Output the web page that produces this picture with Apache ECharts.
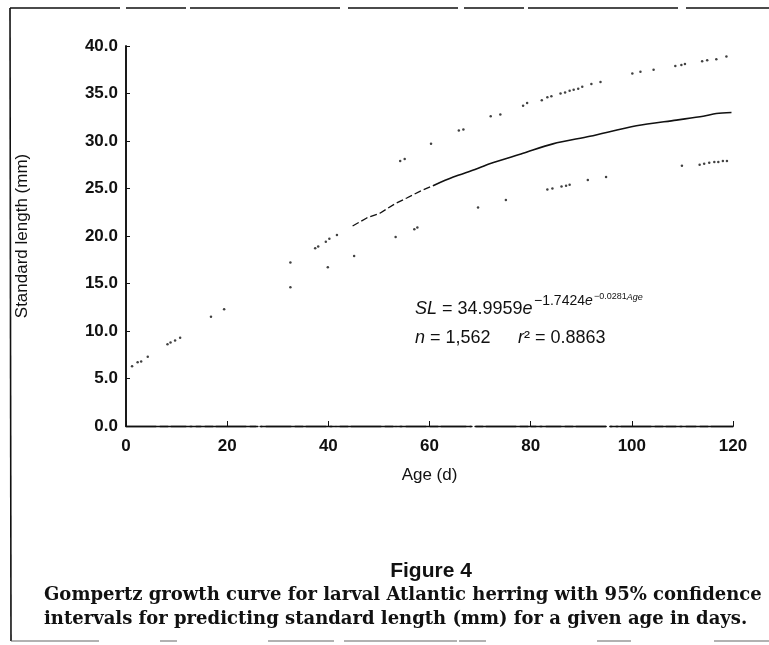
<!DOCTYPE html>
<html>
<head>
<meta charset="UTF-8">
<title>Figure 4 - Gompertz growth curve</title>
<script src="https://cdn.jsdelivr.net/npm/echarts@6/dist/echarts.min.js"></script>
<style>
	html, body { margin: 0; padding: 0; background: #fff; }
	#main { width: 769px; height: 645px; }
</style>
</head>
<body>
<div id="main"></div>
<script>
	// values
	var xTicks = [0, 20, 40, 60, 80, 100, 120];
	var yTicks = ['0.0', '5.0', '10.0', '15.0', '20.0', '25.0', '30.0', '35.0', '40.0'];

	// fitted curve, printed as loose dots at young ages
	var fitDotAge = [1.2, 2.3, 3.0, 4.3, 8.2, 8.8, 9.7, 10.7, 16.8, 19.4, 32.5, 37.4, 38.0, 39.5, 40.2, 41.7];
	var fitDotSL = [6.3, 6.7, 6.8, 7.3, 8.6, 8.8, 9.0, 9.3, 11.5, 12.3, 17.2, 18.7, 18.9, 19.4, 19.7, 20.1];

	// fitted curve, broken line part
	var fitDashAge = [44.8, 47.6, 50.2, 53.2, 55.5, 58.1, 60.7];
	var fitDashSL = [21.05, 21.9, 22.4, 23.4, 24.0, 24.7, 25.3];

	// fitted curve, solid part
	var fitLineAge = [60.7, 64.7, 69.0, 71.9, 78.5, 84.4, 91.7, 100.9, 108.8, 114.1, 116.7, 119.7];
	var fitLineSL = [25.3, 26.2, 27.0, 27.6, 28.7, 29.7, 30.5, 31.6, 32.2, 32.6, 32.9, 33.0];

	// upper 95% limit
	var upperAge = [54.2, 55.1, 60.3, 65.8, 66.7, 72.1, 74.0, 78.5, 79.3, 82.2, 83.3, 84.1, 85.9, 86.8, 87.7, 88.5, 89.4, 90.2, 92.0, 93.8, 100.1, 101.7, 104.3, 108.6, 109.8, 110.5, 113.9, 114.9, 116.7, 118.7];
	var upperSL = [27.9, 28.1, 29.7, 31.1, 31.2, 32.6, 32.8, 33.7, 34.0, 34.3, 34.6, 34.7, 35.0, 35.1, 35.3, 35.4, 35.5, 35.7, 36.0, 36.2, 37.1, 37.3, 37.5, 37.9, 38.0, 38.1, 38.4, 38.5, 38.6, 38.9];

	// lower 95% limit
	var lowerAge = [32.5, 39.9, 45.1, 53.3, 57.0, 57.6, 69.6, 75.1, 83.3, 84.3, 86.1, 87.0, 87.7, 91.3, 94.9, 109.9, 113.4, 114.3, 115.3, 116.3, 117.1, 118.0, 118.8];
	var lowerSL = [14.6, 16.7, 17.9, 19.9, 20.7, 20.9, 23.0, 23.8, 24.9, 25.0, 25.2, 25.3, 25.4, 25.9, 26.2, 27.4, 27.5, 27.6, 27.7, 27.8, 27.8, 27.9, 27.9];

	function pairs(xs, ys) {
		var out = [];
		for (var i = 0; i < xs.length; i++) {
			out.push([xs[i], ys[i]]);
		}
		return out;
	}

	var ink = '#111';
	var sans = '"Liberation Sans", Arial, sans-serif';
	var serif = '"DejaVu Serif", "Liberation Serif", serif';

	// text with italic pieces marked {i|...}
	function eqText(x, y, size, text) {
		return {
			type: 'text', x: x, y: y,
			style: {
				text: text, fill: ink, font: size + 'px ' + sans, verticalAlign: 'middle',
				rich: {i: {fontStyle: 'italic', fontSize: size, fontFamily: sans, fill: ink}}
			}
		};
	}

	var myChart = echarts.init(document.getElementById('main'), null, {renderer: 'canvas'});

	var option = {
		backgroundColor: '#fff',
		animation: false,
		grid: {left: 126, right: 36, top: 46, bottom: 219},
		xAxis: [{
			type: 'value',
			min: xTicks[0],
			max: xTicks[xTicks.length - 1],
			interval: 20,
			name: 'Age (d)',
			nameLocation: 'middle',
			nameGap: 41,
			nameTextStyle: {color: ink, fontSize: 17, fontFamily: sans},
			axisLine: {lineStyle: {color: ink, width: 1.3, type: [30, 4, 8, 3]}},
			axisTick: {inside: true, length: 5, lineStyle: {color: ink}},
			axisLabel: {color: ink, fontSize: 17, fontWeight: 'bold', fontFamily: sans, margin: 12},
			splitLine: {show: false}
		}, {
			type: 'value',
			position: 'top',
			min: xTicks[0],
			max: xTicks[xTicks.length - 1],
			interval: 20,
			axisLine: {lineStyle: {color: ink, width: 1.3, type: [60, 4, 2, 4]}},
			axisTick: {show: false},
			axisLabel: {show: false},
			splitLine: {show: false}
		}],
		yAxis: [{
			type: 'value',
			min: 0,
			max: 40,
			interval: 5,
			name: 'Standard length (mm)',
			nameLocation: 'middle',
			nameGap: 95,
			nameRotate: 90,
			nameTextStyle: {color: ink, fontSize: 17, fontFamily: sans},
			axisLine: {show: true, lineStyle: {color: ink, width: 1.6}},
			axisTick: {inside: true, length: 4, lineStyle: {color: ink}},
			axisLabel: {
				color: ink, fontSize: 17, fontWeight: 'bold', fontFamily: sans, margin: 8,
				formatter: function (v) { return yTicks[Math.round(v / 5)]; }
			},
			splitLine: {show: false}
		}, {
			type: 'value',
			position: 'right',
			min: 0,
			max: 40,
			interval: 5,
			axisLine: {show: true, lineStyle: {color: ink, width: 1.6}},
			axisTick: {show: false},
			axisLabel: {show: false},
			splitLine: {show: false}
		}],
		series: [{
			name: 'fit dots',
			type: 'scatter',
			symbolSize: 2.5,
			itemStyle: {color: ink},
			data: pairs(fitDotAge, fitDotSL)
		}, {
			name: 'fit dashed',
			type: 'line',
			symbol: 'none',
			lineStyle: {color: ink, width: 1.3, type: [7, 3]},
			data: pairs(fitDashAge, fitDashSL)
		}, {
			name: 'fit',
			type: 'line',
			symbol: 'none',
			smooth: 0.3,
			lineStyle: {color: ink, width: 1.6},
			data: pairs(fitLineAge, fitLineSL)
		}, {
			name: 'upper 95%',
			type: 'scatter',
			symbolSize: 2.5,
			itemStyle: {color: ink},
			data: pairs(upperAge, upperSL)
		}, {
			name: 'lower 95%',
			type: 'scatter',
			symbolSize: 2.5,
			itemStyle: {color: ink},
			data: pairs(lowerAge, lowerSL)
		}],
		graphic: [
			// page frame of the scan
			{type: 'line', shape: {x1: 10, y1: 8, x2: 769, y2: 8}, style: {stroke: ink, lineWidth: 1.5, lineDash: [110, 6, 60, 4, 150, 8]}},
			{type: 'line', shape: {x1: 10, y1: 8, x2: 11, y2: 641}, style: {stroke: ink, lineWidth: 1.6}},
			{type: 'line', shape: {x1: 11, y1: 641, x2: 769, y2: 641}, style: {stroke: '#666', lineWidth: 1.2, lineDash: [88, 61, 17, 91, 66, 10, 113, 2, 27, 111, 34, 83, 56]}},
			// equation
			eqText(415, 309, 18, '{i|SL} = 34.9959{i|e}'),
			eqText(534, 301, 14, '\u22121.7424{i|e}'),
			eqText(594, 297, 9, '\u22120.0281{i|Age}'),
			eqText(415, 338, 18, '{i|n} = 1,562'),
			eqText(518, 338, 18, '{i|r}\u00b2 = 0.8863'),
			// figure caption
			{
				type: 'text', x: 431, y: 571,
				style: {text: 'Figure 4', fill: ink, font: 'bold 21px ' + sans, align: 'center', verticalAlign: 'middle'}
			},
			{
				type: 'text', x: 44, y: 595,
				style: {text: 'Gompertz growth curve for larval Atlantic herring with 95% confidence', fill: ink, font: 'bold 18px ' + serif, verticalAlign: 'middle'}
			},
			{
				type: 'text', x: 44, y: 619,
				style: {text: 'intervals for predicting standard length (mm) for a given age in days.', fill: ink, font: 'bold 18px ' + serif, verticalAlign: 'middle'}
			}
		]
	};

	myChart.setOption(option);
</script>
</body>
</html>
